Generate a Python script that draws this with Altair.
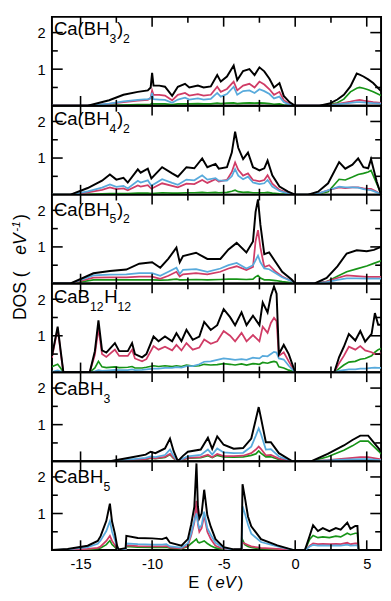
import altair as alt
import pandas as pd

# ---------------- data ----------------
# Panel 1: Ca(BH3)2
E1 = [-17, -14.5, -13, -12, -11, -10.3, -10.1, -10.0, -9.9, -9.5, -9.1, -8.6, -8.2, -7.7, -7.4,
      -6.8, -6.4, -5.9, -5.45, -5.2, -4.77, -4.3, -4.05, -3.64, -3.2, -2.84, -2.5, -2.16, -1.8,
      -1.48, -1.1, -0.8, -0.4, 0, 1.7, 2.4, 2.95, 3.4, 3.86, 4.3, 4.5, 4.77, 5.1, 5.45, 6.0]
TOT1 = [0, 0, 0.15, 0.30, 0.38, 0.42, 0.50, 0.90, 0.55, 0.55, 0.52, 0.27, 0.52, 0.60, 0.50,
        0.55, 0.50, 0.53, 0.84, 0.66, 0.80, 1.10, 0.70, 0.95, 1.00, 0.84, 1.05, 0.94, 0.74,
        0.50, 0.62, 0.27, 0.10, 0, 0, 0.06, 0.17, 0.30, 0.53, 0.88, 0.85, 0.80, 0.72, 0.62, 0.40]
B1 = [0, 0, 0.05, 0.10, 0.14, 0.16, 0.22, 0.42, 0.30, 0.30, 0.28, 0.15, 0.30, 0.35, 0.28,
      0.32, 0.28, 0.30, 0.52, 0.38, 0.46, 0.66, 0.42, 0.55, 0.60, 0.50, 0.66, 0.58, 0.45,
      0.30, 0.38, 0.15, 0.05, 0, 0, 0.02, 0.05, 0.08, 0.11, 0.15, 0.16, 0.14, 0.12, 0.10, 0.08]
H1 = [0, 0, 0.06, 0.12, 0.16, 0.18, 0.20, 0.35, 0.18, 0.17, 0.16, 0.08, 0.17, 0.22, 0.17,
      0.20, 0.17, 0.19, 0.35, 0.25, 0.32, 0.52, 0.30, 0.40, 0.42, 0.35, 0.45, 0.40, 0.32,
      0.20, 0.25, 0.10, 0.03, 0, 0, 0.01, 0.04, 0.06, 0.08, 0.10, 0.10, 0.09, 0.08, 0.07, 0.06]
CA1 = [0, 0, 0.01, 0.02, 0.03, 0.03, 0.04, 0.07, 0.05, 0.05, 0.05, 0.03, 0.05, 0.05, 0.05,
       0.06, 0.05, 0.05, 0.07, 0.06, 0.07, 0.08, 0.06, 0.07, 0.08, 0.07, 0.08, 0.07, 0.06,
       0.04, 0.05, 0.02, 0.01, 0, 0, 0.03, 0.08, 0.18, 0.38, 0.48, 0.50, 0.48, 0.44, 0.38, 0.28]

# Panel 2: Ca(BH4)2
E2 = [-17, -15.7, -14.5, -13.5, -12.95, -12.5, -12.0, -11.7, -11.0, -10.8, -10.3, -10.05, -9.3,
      -8.6, -8.2, -7.6, -7.05, -6.5, -6.14, -5.57, -5.34, -4.77, -4.43, -4.2, -3.98, -3.64, -3.3,
      -2.95, -2.5, -2.16, -1.93, -1.6, -1.1, -0.5, 0, 0.9, 1.6, 2.3, 3.07, 3.5, 4.0, 4.4, 4.77,
      5.1, 5.3, 5.7, 6.0]
TOT2 = [0, 0, 0.18, 0.38, 0.55, 0.41, 0.46, 0.33, 0.69, 0.60, 0.71, 0.44, 0.75, 0.58, 0.49,
        0.75, 0.72, 0.99, 0.75, 0.84, 0.71, 0.75, 1.15, 1.72, 1.28, 0.97, 1.15, 0.75, 0.66,
        0.72, 0.93, 0.53, 0.22, 0.08, 0, 0, 0.08, 0.31, 0.89, 0.71, 0.82, 0.99, 0.75, 0.72,
        0.97, 0.35, 0.0]
B2 = [0, 0, 0.06, 0.13, 0.20, 0.15, 0.17, 0.12, 0.25, 0.22, 0.26, 0.16, 0.31, 0.24, 0.20,
      0.30, 0.29, 0.40, 0.32, 0.42, 0.36, 0.40, 0.62, 0.88, 0.68, 0.52, 0.58, 0.40, 0.36,
      0.40, 0.53, 0.30, 0.13, 0.04, 0, 0, 0.03, 0.12, 0.20, 0.18, 0.20, 0.20, 0.17, 0.16,
      0.16, 0.08, 0.0]
H2 = [0, 0, 0.09, 0.19, 0.28, 0.21, 0.24, 0.17, 0.38, 0.33, 0.39, 0.24, 0.42, 0.32, 0.27,
      0.41, 0.39, 0.53, 0.41, 0.45, 0.38, 0.38, 0.50, 0.70, 0.52, 0.42, 0.49, 0.33, 0.29,
      0.31, 0.40, 0.22, 0.10, 0.03, 0, 0, 0.03, 0.12, 0.22, 0.20, 0.20, 0.19, 0.15, 0.13,
      0.12, 0.06, 0.0]
CA2 = [0, 0, 0.01, 0.02, 0.03, 0.03, 0.03, 0.03, 0.04, 0.04, 0.04, 0.03, 0.05, 0.04, 0.04,
       0.05, 0.05, 0.06, 0.05, 0.06, 0.05, 0.06, 0.09, 0.12, 0.08, 0.06, 0.07, 0.05, 0.05,
       0.05, 0.06, 0.04, 0.02, 0.01, 0, 0, 0.02, 0.08, 0.42, 0.40, 0.48, 0.55, 0.58, 0.62,
       0.66, 0.30, 0.02]

# Panel 3: Ca(BH5)2
E3 = [-17, -15.7, -14.1, -12.95, -11.8, -10.9, -10.0, -9.43, -8.86, -8.3, -8.07, -7.84, -6.93,
      -6.14, -5.23, -4.66, -4.09, -3.41, -2.95, -2.77, -2.6, -2.43, -2.16, -1.82, -1.36, -0.91,
      -0.23, 0, 1.36, 2.2, 2.95, 3.6, 4.3, 5.0, 5.5, 6.0]
TOT3 = [0, 0, 0.28, 0.34, 0.38, 0.54, 0.58, 0.43, 0.68, 0.98, 0.58, 0.75, 0.84, 0.67, 0.67,
        0.93, 1.11, 0.85, 1.15, 1.95, 2.30, 1.60, 0.80, 0.85, 0.58, 0.32, 0.10, 0, 0, 0.15,
        0.47, 0.82, 0.91, 0.88, 0.92, 1.00]
B3 = [0, 0, 0.16, 0.17, 0.17, 0.19, 0.19, 0.13, 0.21, 0.32, 0.19, 0.25, 0.28, 0.25, 0.32,
      0.41, 0.47, 0.37, 0.45, 1.15, 1.46, 0.98, 0.45, 0.50, 0.32, 0.19, 0.06, 0, 0, 0.05,
      0.15, 0.22, 0.20, 0.18, 0.18, 0.18]
H3 = [0, 0, 0.22, 0.24, 0.25, 0.28, 0.28, 0.21, 0.32, 0.43, 0.26, 0.37, 0.39, 0.32, 0.41,
      0.50, 0.56, 0.41, 0.50, 0.63, 0.76, 0.58, 0.41, 0.39, 0.28, 0.17, 0.06, 0, 0, 0.04,
      0.10, 0.14, 0.14, 0.13, 0.13, 0.13]
CA3 = [0, 0, 0.10, 0.10, 0.10, 0.10, 0.10, 0.09, 0.10, 0.12, 0.10, 0.10, 0.11, 0.10, 0.11,
       0.12, 0.12, 0.11, 0.12, 0.18, 0.22, 0.15, 0.10, 0.10, 0.08, 0.05, 0.02, 0, 0, 0.05,
       0.20, 0.32, 0.40, 0.48, 0.55, 0.62]

# Panel 4: CaB12H12
E4 = [-17, -16.85, -16.6, -16.36, -16.2, -14.36, -14.0, -13.75, -13.5, -13.2, -12.6, -12.3,
      -11.7, -11.4, -11.2, -10.7, -10.4, -9.9, -9.55, -9.1, -8.6, -8.3, -7.95, -7.6, -7.16,
      -6.7, -6.36, -5.9, -5.45, -5.0, -4.55, -4.2, -3.75, -3.4, -2.95, -2.5, -2.27, -1.93,
      -1.7, -1.48, -1.3, -1.14, -0.8, -0.45, 0, 2.73, 3.07, 3.4, 3.75, 4.2, 4.55, 4.89, 5.34,
      5.57, 5.8, 6.0]
TOT4 = [0.45, 0.75, 1.25, 0.50, 0, 0, 0.58, 1.42, 0.60, 0.54, 0.80, 0.58, 0.58, 0.80, 0.50,
        0.41, 0.50, 0.98, 0.85, 0.98, 0.85, 1.07, 0.85, 1.16, 0.89, 0.98, 1.38, 1.16, 1.29,
        1.73, 1.51, 1.29, 1.64, 1.29, 1.55, 1.29, 1.91, 1.64, 2.09, 2.35, 2.15, 0.50, 0.75,
        0.50, 0, 0, 0.42, 0.70, 1.05, 0.87, 1.13, 0.84, 1.05, 1.62, 1.30, 1.30]
B4 = [0.40, 0.70, 1.20, 0.45, 0, 0, 0.48, 1.20, 0.50, 0.42, 0.62, 0.45, 0.45, 0.62, 0.38,
      0.30, 0.36, 0.72, 0.62, 0.70, 0.60, 0.75, 0.60, 0.80, 0.62, 0.68, 0.90, 0.78, 0.85,
      1.13, 1.00, 0.85, 1.08, 0.85, 1.02, 0.85, 1.25, 1.08, 1.35, 1.49, 1.40, 0.45, 0.55,
      0.30, 0, 0, 0.25, 0.45, 0.70, 0.62, 0.72, 0.60, 0.55, 0.50, 0.50, 0.52]
H4 = [0.02, 0.03, 0.05, 0.02, 0, 0, 0.03, 0.06, 0.04, 0.05, 0.07, 0.06, 0.06, 0.08, 0.06,
      0.07, 0.08, 0.10, 0.10, 0.12, 0.12, 0.14, 0.13, 0.17, 0.17, 0.22, 0.29, 0.30, 0.34,
      0.38, 0.36, 0.34, 0.36, 0.34, 0.40, 0.38, 0.45, 0.44, 0.50, 0.56, 0.54, 0.38, 0.35,
      0.18, 0, 0, 0.04, 0.06, 0.08, 0.08, 0.10, 0.10, 0.12, 0.13, 0.12, 0.12]
CA4 = [0.15, 0.18, 0.22, 0.10, 0, 0, 0.12, 0.30, 0.15, 0.13, 0.15, 0.13, 0.14, 0.16, 0.12,
       0.12, 0.14, 0.18, 0.16, 0.18, 0.16, 0.18, 0.16, 0.20, 0.17, 0.18, 0.22, 0.20, 0.21,
       0.24, 0.22, 0.20, 0.23, 0.20, 0.24, 0.22, 0.27, 0.25, 0.28, 0.30, 0.28, 0.15, 0.12,
       0.06, 0, 0, 0.10, 0.20, 0.28, 0.30, 0.36, 0.38, 0.45, 0.55, 0.62, 0.65]

# Panel 5: CaBH3
E5 = [-17, -12.95, -11.5, -10.45, -10.1, -9.77, -9.1, -8.75, -8.5, -8.2, -7.86, -7.5, -6.6,
      -6.1, -5.8, -5.45, -5.0, -4.3, -3.64, -3.07, -2.75, -2.55, -2.4, -2.05, -1.7, -1.14,
      -0.2, 1.14, 2.27, 3.4, 4.0, 4.55, 5.1, 5.9, 6.0]
TOT5 = [0, 0, 0.10, 0.18, 0.26, 0.22, 0.35, 0.62, 0.28, 0.0, 0.14, 0.26, 0.32, 0.64, 0.34,
        0.68, 0.45, 0.34, 0.36, 0.62, 1.15, 1.48, 1.20, 0.52, 0.52, 0.22, 0.0, 0.0, 0.20,
        0.43, 0.58, 0.70, 0.70, 0.32, 0.25]
B5 = [0, 0, 0.03, 0.06, 0.09, 0.08, 0.12, 0.20, 0.09, 0.0, 0.05, 0.09, 0.11, 0.18, 0.11,
      0.20, 0.14, 0.14, 0.15, 0.22, 0.32, 0.40, 0.34, 0.16, 0.17, 0.07, 0.0, 0.0, 0.03,
      0.07, 0.09, 0.11, 0.11, 0.06, 0.05]
H5 = [0, 0, 0.05, 0.09, 0.13, 0.11, 0.17, 0.32, 0.14, 0.0, 0.07, 0.13, 0.17, 0.32, 0.18,
      0.35, 0.24, 0.22, 0.23, 0.40, 0.70, 0.90, 0.75, 0.32, 0.33, 0.13, 0.0, 0.0, 0.02,
      0.04, 0.05, 0.06, 0.06, 0.03, 0.03]
CA5 = [0, 0, 0.03, 0.05, 0.08, 0.07, 0.10, 0.18, 0.08, 0.0, 0.05, 0.08, 0.10, 0.15, 0.10,
       0.16, 0.12, 0.11, 0.12, 0.16, 0.20, 0.28, 0.22, 0.12, 0.12, 0.05, 0.0, 0.0, 0.12,
       0.30, 0.42, 0.55, 0.55, 0.25, 0.20]

# Panel 6: CaBH5
E6 = [-17, -15.9, -14.5, -13.8, -13.6, -13.2, -12.95, -12.8, -12.6, -12.45, -12.35, -11.85,
      -11.8, -11.0, -10.0, -9.3, -9.0, -8.75, -7.95, -7.5, -7.27, -7.05, -6.9, -6.8, -6.7,
      -6.54, -6.36, -6.14, -5.9, -5.57, -5.0, -4.3, -3.75, -3.68, -3.52, -3.3, -3.07, -2.39,
      -1.25, -0.1, 0.68, 1.02, 1.25, 1.59, 1.93, 2.39, 2.84, 3.18, 3.64, 3.86, 4.2, 4.35,
      4.43, 6.0]
TOT6 = [0.0, 0.03, 0.12, 0.25, 0.38, 0.80, 1.27, 0.78, 0.45, 0.12, 0.02, 0.05, 0.39, 0.33,
        0.32, 0.30, 0.34, 0.20, 0.12, 0.30, 0.70, 1.18, 2.37, 1.20, 0.87, 1.00, 1.65, 0.95,
        0.64, 0.30, 0.08, 0.02, 0.02, 1.80, 1.45, 0.92, 0.65, 0.30, 0.13, 0.0, 0.0, 0.40,
        0.68, 0.52, 0.60, 0.52, 0.60, 0.56, 0.75, 0.58, 0.66, 0.66, 0.0, 0.0]
B6 = [0, 0.01, 0.03, 0.06, 0.10, 0.25, 0.39, 0.25, 0.13, 0.04, 0.0, 0.02, 0.13, 0.11, 0.10,
      0.10, 0.11, 0.07, 0.05, 0.12, 0.40, 0.75, 1.35, 0.70, 0.50, 0.60, 0.95, 0.50, 0.30,
      0.12, 0.03, 0.01, 0.01, 0.20, 0.18, 0.14, 0.10, 0.06, 0.03, 0.0, 0.0, 0.12, 0.18,
      0.16, 0.17, 0.16, 0.17, 0.16, 0.20, 0.16, 0.18, 0.18, 0.0, 0.0]
H6 = [0, 0.02, 0.08, 0.17, 0.26, 0.52, 0.79, 0.50, 0.28, 0.08, 0.01, 0.03, 0.18, 0.16, 0.15,
      0.15, 0.16, 0.10, 0.07, 0.18, 0.45, 0.80, 1.00, 0.75, 0.60, 0.68, 1.05, 0.60, 0.42,
      0.20, 0.05, 0.01, 0.01, 1.20, 1.00, 0.70, 0.45, 0.22, 0.10, 0.0, 0.0, 0.10, 0.14,
      0.12, 0.13, 0.12, 0.13, 0.12, 0.15, 0.12, 0.13, 0.13, 0.0, 0.0]
CA6 = [0, 0.01, 0.02, 0.04, 0.06, 0.15, 0.26, 0.15, 0.08, 0.03, 0.0, 0.02, 0.10, 0.08, 0.07,
       0.07, 0.08, 0.05, 0.04, 0.10, 0.18, 0.25, 0.30, 0.22, 0.20, 0.22, 0.25, 0.18, 0.12,
       0.06, 0.02, 0.01, 0.01, 0.28, 0.15, 0.10, 0.07, 0.04, 0.02, 0.0, 0.0, 0.30, 0.40,
       0.34, 0.36, 0.34, 0.38, 0.36, 0.46, 0.42, 0.46, 0.46, 0.0, 0.0]

# panel labels: (text, is_subscript)
LABEL1 = [("Ca(BH", False), ("3", True), (")", False), ("2", True)]
LABEL2 = [("Ca(BH", False), ("4", True), (")", False), ("2", True)]
LABEL3 = [("Ca(BH", False), ("5", True), (")", False), ("2", True)]
LABEL4 = [("CaB", False), ("12", True), ("H", False), ("12", True)]
LABEL5 = [("CaBH", False), ("3", True)]
LABEL6 = [("CaBH", False), ("5", True)]

X_DOMAIN = [-17, 6]
Y_DOMAIN = [0, 2.43]
X_MAJOR = [-15, -10, -5, 0, 5]
X_MINOR = [-12.5, -7.5, -2.5, 2.5]
Y_MAJOR = [1, 2]
Y_MINOR = [0.5, 1.5]

SERIES = [("Ca", "#179417", 1.7), ("B", "#d03c66", 1.8), ("H", "#58aadc", 1.8),
          ("Total", "#000000", 2.0)]

# ---------------- layout ----------------
W = 337
H = 91
FONT = "Liberation Sans"
MAIN_SIZE = 19
SUB_SIZE = 12.5
SUB_DROP = 8

ARIAL_W = {'C': 722, 'a': 556, '(': 333, ')': 333, 'B': 667, 'H': 722, 'D': 722, 'O': 778,
           'S': 667, ' ': 278, 'E': 667, 'e': 556, 'V': 667, '-': 333}
for d in "0123456789":
    ARIAL_W[d] = 556


def text_width(s, size):
    return sum(ARIAL_W.get(c, 600) for c in s) / 1000.0 * size


xs = alt.Scale(domain=X_DOMAIN, nice=False, zero=False)
ys = alt.Scale(domain=Y_DOMAIN, nice=False, zero=False)


def text_piece(s, x, y, size, italic=False, angle=0):
    return alt.Chart(pd.DataFrame({"t": [s]})).mark_text(
        align="left", baseline="alphabetic", font=FONT, fontSize=size,
        fontStyle="italic" if italic else "normal", angle=angle, color="black"
    ).encode(text="t:N", x=alt.value(x), y=alt.value(y))


def tick_rules(values, length, side, xaxis, yaxis):
    df = pd.DataFrame({"v": values})
    base = alt.Chart(df).mark_rule(color="black", strokeWidth=1.6)
    if side == "top":
        return base.encode(x=alt.X("v:Q", scale=xs, axis=xaxis), y=alt.value(0), y2=alt.value(length))
    if side == "bottom":
        return base.encode(x=alt.X("v:Q", scale=xs, axis=xaxis), y=alt.value(H), y2=alt.value(H - length))
    if side == "left":
        return base.encode(y=alt.Y("v:Q", scale=ys, axis=yaxis), x=alt.value(0), x2=alt.value(length))
    return base.encode(y=alt.Y("v:Q", scale=ys, axis=yaxis), x=alt.value(W), x2=alt.value(W - length))


def build_panel(E, tot, b, h, ca, label, label_base, bottom=False, extra=()):
    vals = {"Total": tot, "B": b, "H": h, "Ca": ca}
    for v in vals.values():
        assert len(v) == len(E)
    if bottom:
        xaxis = alt.Axis(values=X_MAJOR, ticks=False, domain=False, grid=False, title=None,
                         labelFontSize=15, labelFont=FONT, labelColor="black", labelPadding=7,
                         labelExpr="datum.value + ''")
    else:
        xaxis = None
    yaxis = alt.Axis(values=Y_MAJOR, ticks=False, domain=False, grid=False, title=None,
                     labelFontSize=15, labelFont=FONT, labelColor="black", labelPadding=7,
                     labelExpr="datum.value + ''")
    layers = []
    for name, color, sw in SERIES:
        df = pd.DataFrame({"E": E, "DOS": vals[name]})
        layers.append(alt.Chart(df).mark_line(color=color, strokeWidth=sw, clip=True).encode(
            x=alt.X("E:Q", scale=xs, axis=xaxis),
            y=alt.Y("DOS:Q", scale=ys, axis=yaxis)))
    for side in ("top", "bottom"):
        layers.append(tick_rules(X_MAJOR, 10, side, xaxis, yaxis))
        layers.append(tick_rules(X_MINOR, 6, side, xaxis, yaxis))
    for side in ("left", "right"):
        layers.append(tick_rules(Y_MAJOR, 11, side, xaxis, yaxis))
        layers.append(tick_rules(Y_MINOR, 6, side, xaxis, yaxis))
    x = 2.0
    for s, sub in label:
        size = SUB_SIZE if sub else MAIN_SIZE
        y = label_base + (SUB_DROP if sub else 0)
        layers.append(text_piece(s, x, y, size))
        x += text_width(s, size) + (0.6 if sub else 0)
    layers.extend(extra)
    return alt.layer(*layers).properties(width=W, height=H)


# y-axis title pieces (rotated), placed relative to panel 4
YTITLE = [
    text_piece("DOS", -27, 37.5, 18, angle=270),
    text_piece("(", -27, -6.5, 18, angle=270),
    text_piece("eV", -27, -29.5, 18, italic=True, angle=270),
    text_piece("-1", -33, -53, 12, italic=True, angle=270),
    text_piece(")", -27, -65, 18, angle=270),
]
# x-axis title pieces, relative to panel 6
XT_Y = H + 39
XTITLE = [
    text_piece("E", 139.5, XT_Y, 17),
    text_piece("(", 158.5, XT_Y, 17),
    text_piece("eV", 167.5, XT_Y, 17, italic=True),
    text_piece(")", 190.2, XT_Y, 17),
]

panels = [
    build_panel(E1, TOT1, B1, H1, CA1, LABEL1, 18.5),
    build_panel(E2, TOT2, B2, H2, CA2, LABEL2, 20.2),
    build_panel(E3, TOT3, B3, H3, CA3, LABEL3, 21.5),
    build_panel(E4, TOT4, B4, H4, CA4, LABEL4, 20.3, extra=YTITLE),
    build_panel(E5, TOT5, B5, H5, CA5, LABEL5, 23.0),
    build_panel(E6, TOT6, B6, H6, CA6, LABEL6, 22.2, bottom=True, extra=XTITLE),
]

chart = alt.vconcat(*panels, spacing=0, bounds="flush").properties(
    padding={"left": 1, "top": 0, "right": 0, "bottom": 0}
).configure_view(stroke="black", strokeWidth=2)

chart.save("out.html", embed_options={"renderer": "svg", "actions": False})
